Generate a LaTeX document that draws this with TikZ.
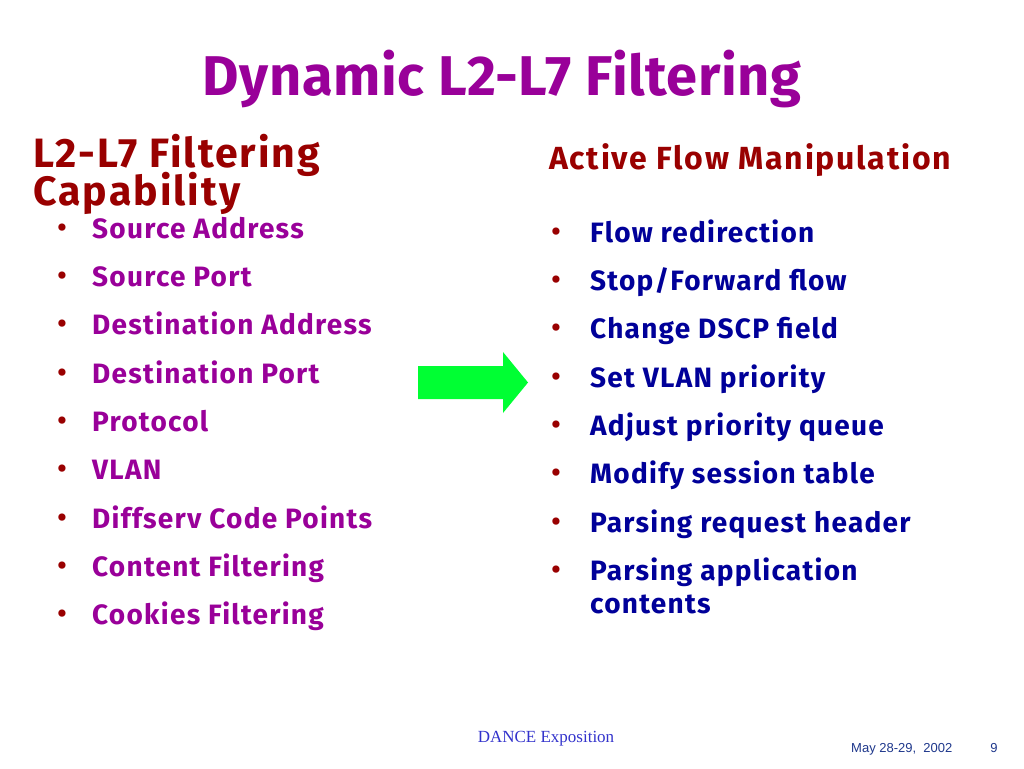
\documentclass[tikz,border=0pt]{standalone}
\usepackage{fontspec}
\setmainfont{Fira Sans}
\newfontfamily\titlefont[LetterSpace=1]{Fira Sans}
\newfontfamily\headfont[LetterSpace=5]{Fira Sans}
\newfontfamily\rheadfont[LetterSpace=5.5]{Fira Sans}
\newfontfamily\itemfont[LetterSpace=4.5]{Fira Sans}
\newfontfamily\footserif{Liberation Serif}
\newfontfamily\footsans{Liberation Sans}
\definecolor{titlepurple}{RGB}{153,0,153}
\definecolor{headred}{RGB}{153,0,0}
\definecolor{itemblue}{RGB}{0,0,153}
\definecolor{arrowgreen}{RGB}{0,255,51}
\definecolor{footblue}{RGB}{51,51,204}
\definecolor{datblue}{RGB}{31,56,140}
\tikzset{
  titletext/.style={anchor=base, inner sep=0pt, text=titlepurple, font=\titlefont\fontsize{56}{60}\selectfont\bfseries},
  headtext/.style={anchor=base west, inner sep=0pt, text=headred, font=\headfont\fontsize{41}{45}\selectfont\bfseries},
  rheadtext/.style={anchor=base west, inner sep=0pt, text=headred, font=\rheadfont\fontsize{32}{36}\selectfont\bfseries},
  litem/.style={anchor=base west, inner sep=0pt, text=titlepurple, font=\itemfont\fontsize{28}{32}\selectfont\bfseries},
  ritem/.style={anchor=base west, inner sep=0pt, text=itemblue, font=\itemfont\fontsize{28}{32}\selectfont\bfseries},
  bul/.style={anchor=base, inner sep=0pt, text=headred, font=\fontsize{32}{36}\selectfont},
}
\begin{document}
\begin{tikzpicture}[x=1pt,y=-1pt]
\useasboundingbox[fill=white] (0,0) rectangle (1024,768);
% title
\node[titletext] (title) at (502,95) {Dynamic L2-L7 Filtering};
% left heading
\node[headtext] (lh1) at (33,167) {L2-L7 Filtering};
\node[headtext] (lh2) at (33,205) {Capability};
% right heading
\node[rheadtext] (rh) at (549,169) {Active Flow Manipulation};
% left items
\foreach \t/\y [count=\i] in {Source Address/238, Source Port/286, Destination Address/334, Destination Port/383, Protocol/431, VLAN/479, Diffserv Code Points/528, Content Filtering/576, Cookies Filtering/624}{
  \node[bul] (lb\i) at (62,\y) {•};
  \node[litem] (li\i) at (92,\y) {\t};
}
% right items
\foreach \t/\y [count=\i] in {Flow redirection/242, {Stop/Forward flow}/290, Change DSCP field/338, Set VLAN priority/387, Adjust priority queue/435, Modify session table/483, Parsing request header/532, Parsing application/580}{
  \node[bul] (rb\i) at (556,\y) {•};
  \node[ritem] (ri\i) at (590,\y) {\t};
}
\node[ritem] (ri9) at (590,613) {contents};
% arrow
\fill[arrowgreen] (418,366) -- (503,366) -- (503,352) -- (528,382.5) -- (503,413) -- (503,399) -- (418,399) -- cycle;
% footer
\node[anchor=base, inner sep=0pt, text=footblue, font=\footserif\fontsize{17}{20}\selectfont] (foot) at (546,742) {DANCE Exposition};
\node[anchor=base west, inner sep=0pt, text=datblue, font=\footsans\fontsize{13}{15}\selectfont] (date) at (851,752) {May 28-29,~~2002};
\node[anchor=base, inner sep=0pt, text=datblue, font=\footsans\fontsize{13}{15}\selectfont] (page) at (994,752) {9};
\end{tikzpicture}
\end{document}
